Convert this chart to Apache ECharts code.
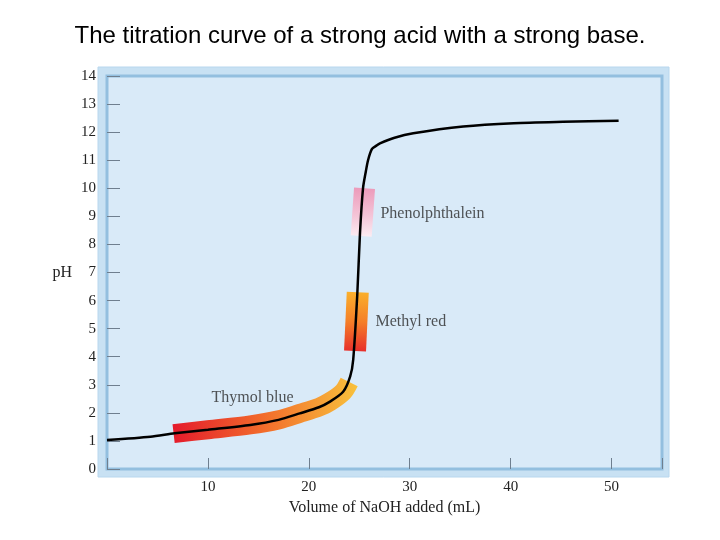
<!DOCTYPE html>
<html>
<head>
<meta charset="utf-8">
<script src="https://cdn.jsdelivr.net/npm/echarts@6/dist/echarts.min.js"></script>
<style>html,body{margin:0;padding:0;background:#fff;}#c{width:720px;height:540px;}</style>
</head>
<body>
<div id="c"></div>
<script>
// Titration curve (volume NaOH in mL, pH)
var curveX  = [0, 4.3, 6.7, 10, 14.2, 17, 19.1, 21, 22.1, 23.4, 24.1, 24.4, 24.8, 25.07, 25.37, 25.65, 25.87, 26.26, 26.7, 27.05, 28.5, 30.35, 35.3, 40.3, 45.2, 50.7];
var curvePH = [1.03, 1.15, 1.27, 1.4, 1.57, 1.75, 1.98, 2.2, 2.4, 2.75, 3.3, 3.9, 6.2, 8.4, 10.0, 10.6, 11.0, 11.4, 11.52, 11.6, 11.8, 11.96, 12.2, 12.32, 12.37, 12.41];

// Indicator bands (x, pH)
var thymolX  = [6.6, 10, 14.2, 17, 19.1, 21, 22.1, 23.4, 24.0];
var thymolPH = [1.26, 1.4, 1.57, 1.75, 1.98, 2.2, 2.4, 2.75, 3.1];
var methylX  = [24.58, 24.85];
var methylPH = [4.2, 6.3];
var phenolX  = [25.19, 25.52];
var phenolPH = [8.3, 10.0];

// Indicator labels
var labelNames = ['Phenolphthalein', 'Methyl red', 'Thymol blue'];
var labelX  = [27.05, 26.56, 10.3];
var labelPH = [9.08, 5.24, 2.53];

var xTicks = [10, 20, 30, 40, 50];

function zip(a, b) { return a.map(function (v, i) { return [v, b[i]]; }); }

var serif = '"Liberation Serif", "Times New Roman", serif';
var chart = echarts.init(document.getElementById('c'));
chart.setOption({
  animation: false,
  title: {
    text: 'The titration curve of a strong acid with a strong base.',
    left: 'center', top: 19,
    textStyle: { fontFamily: '"Liberation Sans", Arial, sans-serif', fontSize: 24, fontWeight: 'normal', color: '#000' }
  },
  grid: [
    { left: 98, top: 67, right: 51, bottom: 63, show: true, backgroundColor: '#c8e1f3', borderColor: '#b8d7ee', borderWidth: 1 },
    { left: 107, top: 76, right: 58, bottom: 71, show: true, backgroundColor: '#d9eaf8', borderColor: '#93bfdf', borderWidth: 3 }
  ],
  xAxis: [
    { gridIndex: 0, type: 'value', show: false },
    {
      gridIndex: 1, type: 'value', min: 0, max: 55, interval: 10,
      name: 'Volume of NaOH added (mL)', nameLocation: 'middle', nameGap: 29,
      nameTextStyle: { fontFamily: serif, fontSize: 16, color: '#222' },
      axisLine: { show: false },
      axisTick: { inside: true, length: 11, lineStyle: { color: '#6f7f8f', width: 1 } },
      splitLine: { show: false },
      axisLabel: {
        margin: 11, fontFamily: serif, fontSize: 15, color: '#222',
        formatter: function (v) { return xTicks.indexOf(v) >= 0 ? String(v) : ''; }
      }
    }
  ],
  yAxis: [
    { gridIndex: 0, type: 'value', show: false },
    {
      gridIndex: 1, type: 'value', min: 0, max: 14, interval: 1,
      name: 'pH', nameLocation: 'middle', nameGap: 35, nameRotate: 0,
      nameTextStyle: { fontFamily: serif, fontSize: 16, color: '#222' },
      axisLine: { show: false },
      axisTick: { inside: true, length: 13, lineStyle: { color: '#6f7f8f', width: 1 } },
      splitLine: { show: false },
      axisLabel: { margin: 11, fontFamily: serif, fontSize: 15, color: '#222' }
    }
  ],
  series: [
    {
      name: 'Thymol blue', type: 'line', xAxisIndex: 1, yAxisIndex: 1,
      data: zip(thymolX, thymolPH), smooth: 0.3, showSymbol: false, symbol: 'none', z: 2,
      lineStyle: {
        width: 19, cap: 'butt',
        color: new echarts.graphic.LinearGradient(0, 0, 1, 0, [
          { offset: 0, color: '#e3132c' }, { offset: 0.5, color: '#f26a2b' }, { offset: 1, color: '#f8c23c' }
        ])
      }
    },
    {
      name: 'Methyl red', type: 'line', xAxisIndex: 1, yAxisIndex: 1,
      data: zip(methylX, methylPH), showSymbol: false, symbol: 'none', z: 2,
      lineStyle: {
        width: 22, cap: 'butt',
        color: new echarts.graphic.LinearGradient(0, 0, 0, 1, [
          { offset: 0, color: '#fcc22e' }, { offset: 0.5, color: '#f57f28' }, { offset: 1, color: '#e2122c' }
        ])
      }
    },
    {
      name: 'Phenolphthalein', type: 'line', xAxisIndex: 1, yAxisIndex: 1,
      data: zip(phenolX, phenolPH), showSymbol: false, symbol: 'none', z: 2,
      lineStyle: {
        width: 21, cap: 'butt',
        color: new echarts.graphic.LinearGradient(0, 0, 0, 1, [
          { offset: 0, color: '#e98bb0' }, { offset: 0.55, color: '#f4c4d7' }, { offset: 1, color: '#ffffff' }
        ])
      }
    },
    {
      name: 'Titration curve', type: 'line', xAxisIndex: 1, yAxisIndex: 1,
      data: zip(curveX, curvePH), smooth: 0.25, showSymbol: false, symbol: 'none', z: 5,
      lineStyle: { width: 2.5, color: '#000' }
    },
    {
      name: 'labels', type: 'scatter', xAxisIndex: 1, yAxisIndex: 1, symbolSize: 1, z: 6,
      itemStyle: { color: 'rgba(0,0,0,0)' },
      data: labelNames.map(function (n, i) { return { name: n, value: [labelX[i], labelPH[i]] }; }),
      label: {
        show: true, position: 'right', distance: 0, formatter: '{b}',
        fontFamily: serif, fontSize: 16, color: '#2a2a2a'
      }
    }
  ]
});
</script>
</body>
</html>
